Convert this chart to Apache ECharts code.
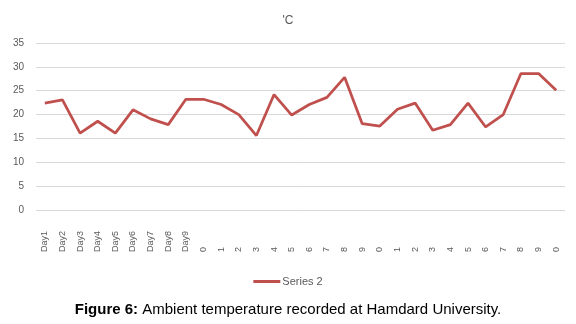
<!DOCTYPE html>
<html>
<head>
<meta charset="utf-8">
<script src="https://cdn.jsdelivr.net/npm/echarts@6/dist/echarts.min.js"></script>
<style>
  html, body { margin: 0; padding: 0; background: #fff; }
  #chart { width: 576px; height: 324px; }
</style>
</head>
<body>
<div id="chart"></div>
<script>
// x 轴标签（原图中 Day10 之后只露出最后一位数字）
const days = ['Day1', 'Day2', 'Day3', 'Day4', 'Day5', 'Day6', 'Day7', 'Day8', 'Day9',
  '0', '1', '2', '3', '4', '5', '6', '7', '8', '9',
  '0', '1', '2', '3', '4', '5', '6', '7', '8', '9', '0'];

// 温度读数
const series2 = [22.4, 23.1, 16.1, 18.6, 16.1, 21.0, 19.1, 17.9, 23.2,
  23.2, 22.1, 20.0, 15.6, 24.2, 19.9, 22.1, 23.6, 27.8, 18.1,
  17.6, 21.1, 22.4, 16.7, 17.9, 22.4, 17.4, 20.0, 28.6, 28.6, 25.1];

const yTicks = [0, 35, 5]; // min, max, interval

const chart = echarts.init(document.getElementById('chart'));
const option = {
  animation: false,
  title: [
    {
      text: "'C",
      left: 'center',
      top: 10,
      textStyle: { fontFamily: 'Liberation Sans', fontSize: 12, fontWeight: 'normal', color: '#595959' }
    },
    {
      text: '{b|Figure 6:} Ambient temperature recorded at Hamdard University.',
      left: 'center',
      top: 297,
      textStyle: {
        fontFamily: 'Liberation Sans', fontSize: 15, fontWeight: 'normal', color: '#000',
        rich: { b: { fontFamily: 'Liberation Sans', fontSize: 15, fontWeight: 'bold', color: '#000' } }
      }
    }
  ],
  legend: {
    data: ['Series 2'],
    left: 'center',
    top: 271,
    icon: 'rect',
    itemWidth: 27,
    itemHeight: 3,
    itemGap: 2,
    textStyle: { fontFamily: 'Liberation Sans', fontSize: 11, color: '#595959', padding: [0, 0, 0, -3] }
  },
  grid: { left: 36, right: 11, top: 43, bottom: 114 },
  xAxis: {
    type: 'category',
    data: days,
    boundaryGap: true,
    axisLine: { show: false },
    axisTick: { show: false },
    axisLabel: {
      interval: 0,
      rotate: 90,
      align: 'left',
      margin: 42,
      fontFamily: 'Liberation Sans',
      fontSize: 9,
      color: '#595959'
    }
  },
  yAxis: {
    type: 'value',
    min: yTicks[0],
    max: yTicks[1],
    interval: yTicks[2],
    axisLine: { show: false },
    axisTick: { show: false },
    axisLabel: { fontFamily: 'Liberation Sans', fontSize: 10, color: '#595959', margin: 12 },
    splitLine: { lineStyle: { color: '#d9d9d9', width: 1 } }
  },
  series: [
    {
      name: 'Series 2',
      type: 'line',
      data: series2,
      showSymbol: false,
      itemStyle: { color: '#c0504d' },
      lineStyle: { color: '#c0504d', width: 2.75 }
    }
  ]
};
chart.setOption(option);
</script>
</body>
</html>
